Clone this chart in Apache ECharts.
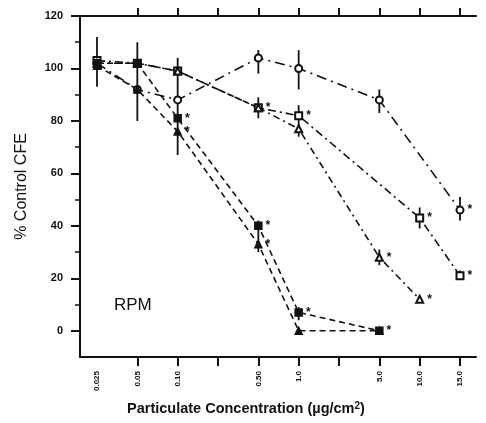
<!DOCTYPE html>
<html><head><meta charset="utf-8">
<script src="https://cdn.jsdelivr.net/npm/echarts/dist/echarts.min.js"></script>
<style>html,body{margin:0;padding:0;background:#fff}#c{width:486px;height:423px}</style>
</head><body><div id="c"></div>
<script>
// Categories (concentration, µg/cm2); blanks are unlabeled ticks
const categories = ['0.025','0.05','0.10','','0.50','1.0','','5.0','10.0','15.0'];
const yTicks = [0,20,40,60,80,100,120];
const yMinorTicks = [10,30,50,70,90,110];

// % Control CFE per series (null = not measured)
const seriesA = [102, 92, 88, null, 104, 100, null, 88, null, 46];
const seriesB = [103, 102, 99, null, 85, 82, null, null, 43, 21];
const seriesC = [102, 102, 99, null, 85, 77, null, 28, 12, null];
const seriesD = [102, 102, 81, null, 40, 7, null, 0, null, null];
const seriesE = [101, 92, 76, null, 33, 0, null, 0, null, null];

// significance markers (*)
const sigA = [0,0,0,0,0,0,0,0,0,1];
const sigB = [0,0,0,0,1,1,0,0,1,1];
const sigC = [0,0,0,0,0,0,0,1,1,0];
const sigD = [0,0,1,0,1,1,0,1,0,0];
const sigE = [0,0,1,0,1,0,0,0,0,0];

// error bars: [category index, low, high]
const errorBars = [
  [0, 93, 112], [1, 80, 110], [2, 67, 104],
  [4, 98, 107], [4, 81, 89], [4, 30, 42],
  [5, 92, 107], [5, 74, 86], [5, 4, 9],
  [7, 83, 92], [7, 25, 31], [8, 39, 47],
  [9, 42, 51], [9, 20, 23]
];

const ink = '#111';
const font = 'Liberation Sans, Arial, sans-serif';

function mk(vals, sig) {
  return vals.map((v, i) => v == null ? null : {
    value: v,
    label: { show: sig[i] === 1 }
  });
}
function line(name, vals, sig, symbol, dash) {
  return {
    name, type: 'line', xAxisIndex: 2, yAxisIndex: 2,
    data: mk(vals, sig), connectNulls: true,
    symbol, symbolSize: 7,
    itemStyle: { color: ink, borderColor: ink, borderWidth: 1.5 },
    lineStyle: { color: ink, width: 1.6, type: dash },
    label: { show: false, position: 'right', distance: 3, formatter: '*',
      color: ink, fontSize: 12, fontWeight: 'bold', fontFamily: font },
    emphasis: { disabled: true }, animation: false, z: 3
  };
}

const chart = echarts.init(document.getElementById('c'), null, { renderer: 'canvas' });
chart.setOption({
  backgroundColor: '#fff',
  animation: false,
  grid: [
    { left: 80, right: 10, top: 16, bottom: 66 },
    { left: 97, right: 26, top: 16, bottom: 66 }
  ],
  xAxis: [
    { gridIndex: 0, type: 'value', min: 0, max: 1, position: 'bottom',
      axisLine: { show: true, onZero: false, lineStyle: { color: ink, width: 2 } },
      axisTick: { show: false }, axisLabel: { show: false }, splitLine: { show: false } },
    { gridIndex: 0, type: 'value', min: 0, max: 1, position: 'top',
      axisLine: { show: true, onZero: false, lineStyle: { color: ink, width: 2 } },
      axisTick: { show: false }, axisLabel: { show: false }, splitLine: { show: false } },
    { gridIndex: 1, type: 'category', data: categories, boundaryGap: false, position: 'bottom',
      axisLine: { show: false, onZero: false },
      axisTick: { show: true, inside: false, length: 9, lineStyle: { color: ink, width: 2 },
        interval: (i) => i !== 0 },
      axisLabel: { interval: 0, rotate: 90, margin: 14, color: ink, fontSize: 8,
        fontWeight: 'bold', fontFamily: font },
      splitLine: { show: false } },
    { gridIndex: 1, type: 'category', data: categories, boundaryGap: false, position: 'top',
      axisLine: { show: false, onZero: false },
      axisTick: { show: true, length: 8, lineStyle: { color: ink, width: 2 },
        interval: (i) => i !== 0 },
      axisLabel: { show: false }, splitLine: { show: false } }
  ],
  yAxis: [
    { gridIndex: 0, type: 'value', min: -10, max: 120, position: 'left',
      name: '% Control CFE', nameLocation: 'middle', nameGap: 50, nameRotate: 90,
      nameTextStyle: { color: ink, fontSize: 16, fontFamily: font },
      axisLine: { show: true, onZero: false, lineStyle: { color: ink, width: 2 } },
      axisTick: { show: true, length: 9, customValues: yTicks, lineStyle: { color: ink, width: 2 } },
      axisLabel: { customValues: yTicks, margin: 17, color: ink, fontSize: 11,
        fontWeight: 'bold', fontFamily: font },
      splitLine: { show: false } },
    { gridIndex: 0, type: 'value', min: -10, max: 120, position: 'left', offset: 0,
      axisLine: { show: false, onZero: false },
      axisTick: { show: true, length: 5, customValues: yMinorTicks, lineStyle: { color: ink, width: 1.5 } },
      axisLabel: { show: false }, splitLine: { show: false } },
    { gridIndex: 1, type: 'value', min: -10, max: 120, show: false }
  ],
  graphic: [
    { type: 'text', left: 114, top: 297, style: { text: 'RPM', fill: ink, fontSize: 17,
      fontFamily: font } },
    { type: 'text', left: 127, top: 401, style: {
      text: '{a|Particulate Concentration (µg/cm}{s|2}{a|)}',
      rich: {
        a: { fill: ink, fontSize: 14.5, fontFamily: font, fontWeight: 'bold' },
        s: { fill: ink, fontSize: 10, fontFamily: font, fontWeight: 'bold', verticalAlign: 'top', padding: [0,0,6,0] }
      } } }
  ],
  series: [
    {
      type: 'custom', xAxisIndex: 2, yAxisIndex: 2, data: errorBars,
      encode: { x: 0, y: [1, 2] }, z: 2, silent: true,
      renderItem: (params, api) => {
        const x = api.value(0);
        const p1 = api.coord([x, api.value(1)]);
        const p2 = api.coord([x, api.value(2)]);
        return { type: 'line', shape: { x1: p1[0], y1: p1[1], x2: p2[0], y2: p2[1] },
          style: { stroke: ink, lineWidth: 1.8 } };
      }
    },
    line('A', seriesA, sigA, 'emptyCircle', [10, 5, 2, 5]),
    line('B', seriesB, sigB, 'emptyRect', [8, 4, 2, 4]),
    line('C', seriesC, sigC, 'emptyTriangle', [7, 4, 2, 4]),
    line('D', seriesD, sigD, 'rect', [6, 4]),
    line('E', seriesE, sigE, 'triangle', [6, 4])
  ]
});
</script></body></html>
